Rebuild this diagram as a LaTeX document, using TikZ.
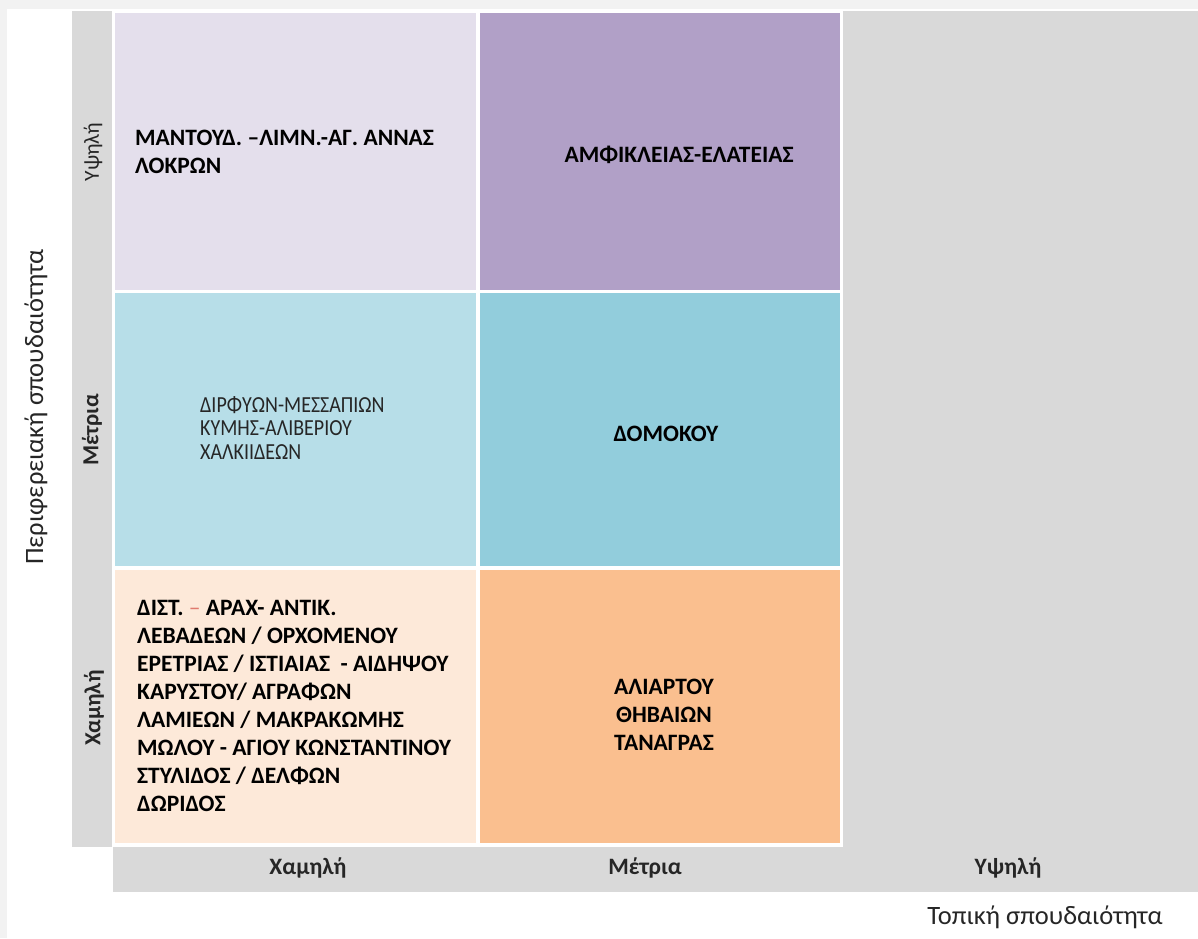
\documentclass[tikz,border=0pt]{standalone}
\usepackage{fontspec}
\setmainfont{Carlito}
\newfontfamily\condfont[FakeStretch=0.87]{Carlito}
\definecolor{grayband}{HTML}{D9D9D9}
\definecolor{frameg}{HTML}{F2F2F2}
\definecolor{lavlight}{HTML}{E4DFEC}
\definecolor{lavdark}{HTML}{B1A0C7}
\definecolor{bluelight}{HTML}{B7DEE8}
\definecolor{bluedark}{HTML}{92CDDC}
\definecolor{peachlight}{HTML}{FDE9D9}
\definecolor{peachdark}{HTML}{FABF8F}
\definecolor{dashred}{HTML}{E07A6E}
\tikzset{
  celltxt/.style={inner sep=0pt, font=\fontsize{23.5}{28}\selectfont\bfseries, text=black},
  condtxt/.style={inner sep=0pt, font=\condfont\fontsize{23}{23.5}\selectfont, text=black!85},
  rowlab/.style={inner sep=0pt, rotate=90, font=\fontsize{21.5}{24}\selectfont, text=black!85},
  rowlabb/.style={rowlab, font=\fontsize{23}{24}\selectfont\bfseries},
  collab/.style={inner sep=0pt, font=\fontsize{23.5}{26}\selectfont\bfseries, text=black!85},
  axislab/.style={inner sep=0pt, font=\fontsize{26.5}{30}\selectfont, text=black!85}
}
\begin{document}
\begin{tikzpicture}[x=1pt,y=-1pt]
\useasboundingbox (0,0) rectangle (1198,938);
% faint outer frame
\fill[frameg] (0,0) rectangle (1198,938);
\fill[white] (7,9) rectangle (1198,938);
% gray bands
\fill[grayband] (72,11) rectangle (1198,847);
\fill[grayband] (113,847) rectangle (1198,892);
\fill[white] (112,10) rectangle (843,847);
% cells
\fill[lavlight]   (115,13)  rectangle (476,290);
\fill[lavdark]    (480,13)  rectangle (840,290);
\fill[bluelight]  (115,293) rectangle (476,566);
\fill[bluedark]   (480,293) rectangle (840,566);
\fill[peachlight] (115,570) rectangle (476,843);
\fill[peachdark]  (480,570) rectangle (840,843);
% cell texts
\node[celltxt, anchor=west, align=left] (t11) at (135,152)
  {ΜΑΝΤΟΥΔ. –ΛΙΜΝ.-ΑΓ. ΑΝΝΑΣ\\ΛΟΚΡΩΝ};
\node[celltxt] (t12) at (679,155) {ΑΜΦΙΚΛΕΙΑΣ-ΕΛΑΤΕΙΑΣ};
\node[condtxt, anchor=west, align=left] (t21) at (200,428)
  {ΔΙΡΦΥΩΝ-ΜΕΣΣΑΠΙΩΝ\\ΚΥΜΗΣ-ΑΛΙΒΕΡΙΟΥ\\ΧΑΛΚΙΙΔΕΩΝ};
\node[celltxt] (t22) at (666,434) {ΔΟΜΟΚΟΥ};
\node[celltxt, anchor=west, align=left] (t31) at (137,706)
  {ΔΙΣΤ. {\mdseries\color{dashred}–} ΑΡΑΧ- ΑΝΤΙΚ.\\ΛΕΒΑΔΕΩΝ / ΟΡΧΟΜΕΝΟΥ\\ΕΡΕΤΡΙΑΣ / ΙΣΤΙΑΙΑΣ \ - ΑΙΔΗΨΟΥ\\ΚΑΡΥΣΤΟΥ/ ΑΓΡΑΦΩΝ\\ΛΑΜΙΕΩΝ / ΜΑΚΡΑΚΩΜΗΣ\\ΜΩΛΟΥ - ΑΓΙΟΥ ΚΩΝΣΤΑΝΤΙΝΟΥ\\ΣΤΥΛΙΔΟΣ / ΔΕΛΦΩΝ\\ΔΩΡΙΔΟΣ};
\node[celltxt, align=center] (t32) at (664,715) {ΑΛΙΑΡΤΟΥ\\ΘΗΒΑΙΩΝ\\ΤΑΝΑΓΡΑΣ};
% row labels
\node[rowlab] (r1) at (93,152) {Υψηλή};
\node[rowlabb] (r2) at (92,430) {Μέτρια};
\node[rowlabb] (r3) at (94,708) {Χαμηλή};
% column labels
\node[collab] (c1) at (308,868) {Χαμηλή};
\node[collab] (c2) at (645,868) {Μέτρια};
\node[collab] (c3) at (1008,868) {Υψηλή};
% axis titles
\node[axislab, rotate=90] (ay) at (36,407) {Περιφερειακή σπουδαιότητα};
\node[axislab] (ax) at (1045,917) {Τοπική σπουδαιότητα};
\end{tikzpicture}
\end{document}
